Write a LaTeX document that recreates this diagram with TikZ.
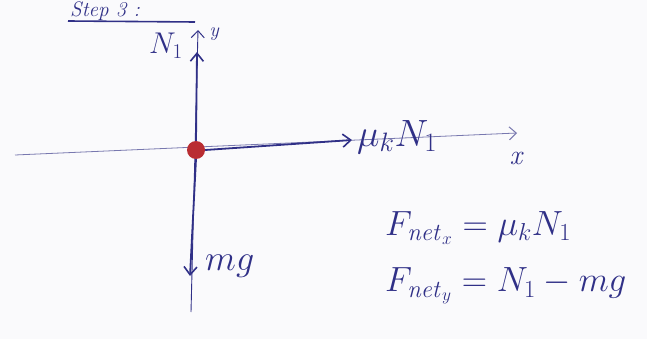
\RequirePackage{fix-cm}
\documentclass[tikz,border=0pt]{standalone}
\usetikzlibrary{arrows.meta}
\definecolor{ink}{RGB}{48,48,135}
\definecolor{axisc}{RGB}{120,120,175}
\definecolor{dotc}{RGB}{185,45,50}
\definecolor{paper}{RGB}{250,250,252}
\begin{document}
\begin{tikzpicture}[x=1pt,y=-1pt,
  inktext/.style={text=ink,inner sep=0pt,font=\fontsize{34}{38}\selectfont},
  eqtext/.style={text=ink,inner sep=0pt,font=\fontsize{35}{40}\selectfont},
  axisline/.style={draw=axisc,line width=0.8pt,-{Straight Barb[length=7pt,width=13pt,line width=1pt]}},
  force/.style={draw=ink,line width=1.8pt,-{Straight Barb[length=8pt,width=13pt,line width=1.6pt]}},
  plainline/.style={draw=ink,line width=1.6pt}]
\fill[paper] (0,0) rectangle (647,339);
\useasboundingbox (0,0) rectangle (647,339);
% step label
\node[inktext,anchor=base west,font=\itshape\fontsize{21}{24}\selectfont] (step) at (70,17) {Step 3 :};
\coordinate (ul1) at (68,21);
\coordinate (ul2) at (195,22);
\draw[plainline] (ul1) -- (ul2);
% axes
\coordinate (xl) at (15,155);
\coordinate (xr) at (517,133);
\coordinate (yb) at (191,312);
\coordinate (yt) at (198,30);
\draw[axisline] (xl) -- (xr);
\draw[axisline,draw=ink,line width=0.9pt] (yb) -- (yt);
\node[inktext,font=\itshape\fontsize{20}{22}\selectfont] (ylab) at (214,34) {y};
\node[inktext,font=\itshape\fontsize{28}{30}\selectfont] (xlab) at (516,158) {x};
% dot
\node[circle,fill=dotc,minimum size=18pt,inner sep=0pt] (o) at (196,150) {};
% forces
\coordinate (n1tip) at (197,52);
\coordinate (mutip) at (352,140);
\coordinate (mgtip) at (190,276);
\draw[force] (o.north) -- (n1tip);
\draw[force] (o.east) -- (mutip);
\draw[force] (o.south) -- (mgtip);
\node[inktext,font=\fontsize{30}{34}\selectfont] (n1lab) at (166,46) {$N_1$};
\node[inktext,anchor=west,font=\fontsize{38}{42}\selectfont] (mulab) at (357,137) {$\mu_k N_1$};
\node[inktext,anchor=west,font=\fontsize{36}{40}\selectfont] (mglab) at (205,266) {$mg$};
% equations
\node[eqtext,anchor=west] (eqx) at (385,228) {$F_{\mathit{net}_x} = \mu_k N_1$};
\node[eqtext,anchor=west] (eqy) at (385,286) {$F_{\mathit{net}_y} = N_1 - mg$};
\end{tikzpicture}
\end{document}
